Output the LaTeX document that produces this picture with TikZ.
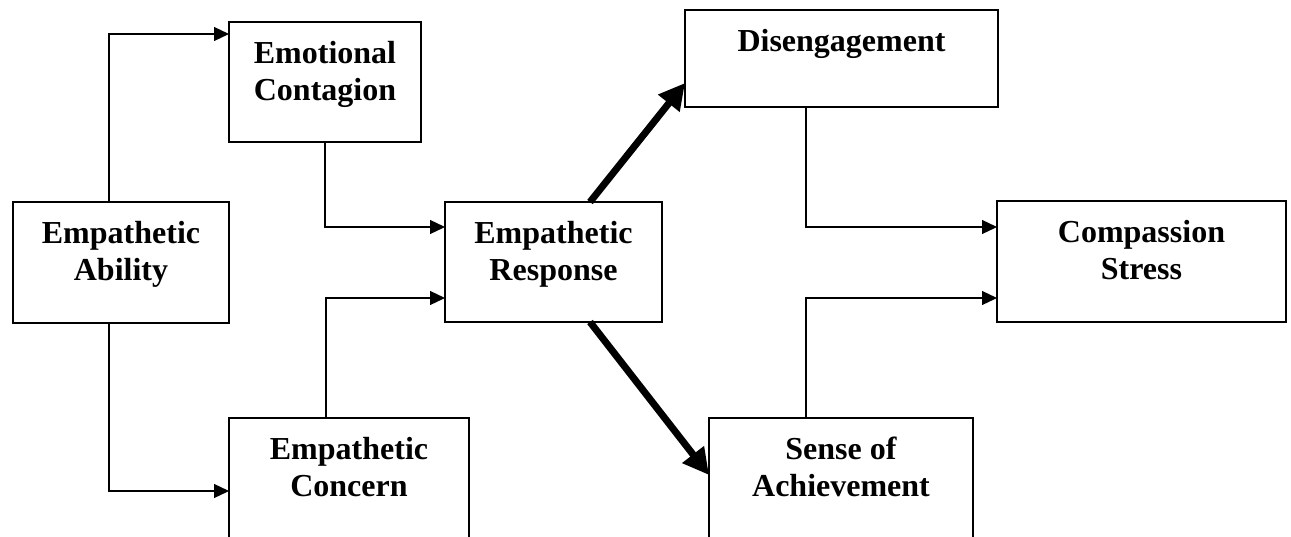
\documentclass[tikz,border=0pt]{standalone}
\usepackage{fontspec}
\setmainfont{Liberation Serif}
\usetikzlibrary{arrows.meta,calc}
\begin{document}
\begin{tikzpicture}[x=1pt,y=-1pt,
  box/.style={draw, line width=1.4pt, inner sep=0pt, outer sep=0pt, anchor=north west},
  title/.style={anchor=north, inner sep=0pt, align=center, font=\fontsize{32}{37}\selectfont\bfseries, yshift=-19pt},
  conn/.style={line width=1.2pt, -{Triangle[length=15pt,width=14pt]}},
  boldarrow/.style={line width=7pt, -{Triangle[length=26pt,width=26pt]}}
]
\useasboundingbox (0,0) rectangle (1291,536);
\clip (0,0) rectangle (1291,536);
\fill[white] (0,0) rectangle (1291,536);
% boxes
\node[box, minimum width=216pt, minimum height=121pt] (ab) at (13,202) {};
\node[box, minimum width=192pt, minimum height=120pt] (ec) at (229,22) {};
\node[box, minimum width=240pt, minimum height=150pt] (ecn) at (229,418) {};
\node[box, minimum width=217pt, minimum height=120pt] (er) at (445,202) {};
\node[box, minimum width=313pt, minimum height=97pt] (dg) at (685,10) {};
\node[box, minimum width=289pt, minimum height=121pt] (cs) at (997,201) {};
\node[box, minimum width=264pt, minimum height=150pt] (sa) at (709,418) {};
% titles
\node[title] (abt) at (ab.north) {Empathetic\\Ability};
\node[title] (ect) at (ec.north) {Emotional\\Contagion};
\node[title] (ecnt) at (ecn.north) {Empathetic\\Concern};
\node[title] (ert) at (er.north) {Empathetic\\Response};
\node[title] (dgt) at (dg.north) {Disengagement};
\node[title] (cst) at (cs.north) {Compassion\\Stress};
\node[title] (sat) at (sa.north) {Sense of\\Achievement};
% connectors
\draw[conn] ($(ab.north west)+(96,0)$) |- ($(ec.north west)+(0,12)$);
\draw[conn] ($(ab.south west)+(96,0)$) |- ($(ecn.north west)+(0,73)$);
\draw[conn] ($(ec.south west)+(96,0)$) |- ($(er.north west)+(0,25)$);
\draw[conn] ($(ecn.north west)+(97,0)$) |- ($(er.north west)+(0,96)$);
\draw[boldarrow] ($(er.north west)+(145,0)$) -- ($(dg.north west)+(0,73)$);
\draw[boldarrow] ($(er.south west)+(145,0)$) -- ($(sa.north west)+(0,57)$);
\draw[conn] ($(dg.south west)+(121,0)$) |- ($(cs.north west)+(0,26)$);
\draw[conn] ($(sa.north west)+(97,0)$) |- ($(cs.north west)+(0,97)$);
\end{tikzpicture}
\end{document}
